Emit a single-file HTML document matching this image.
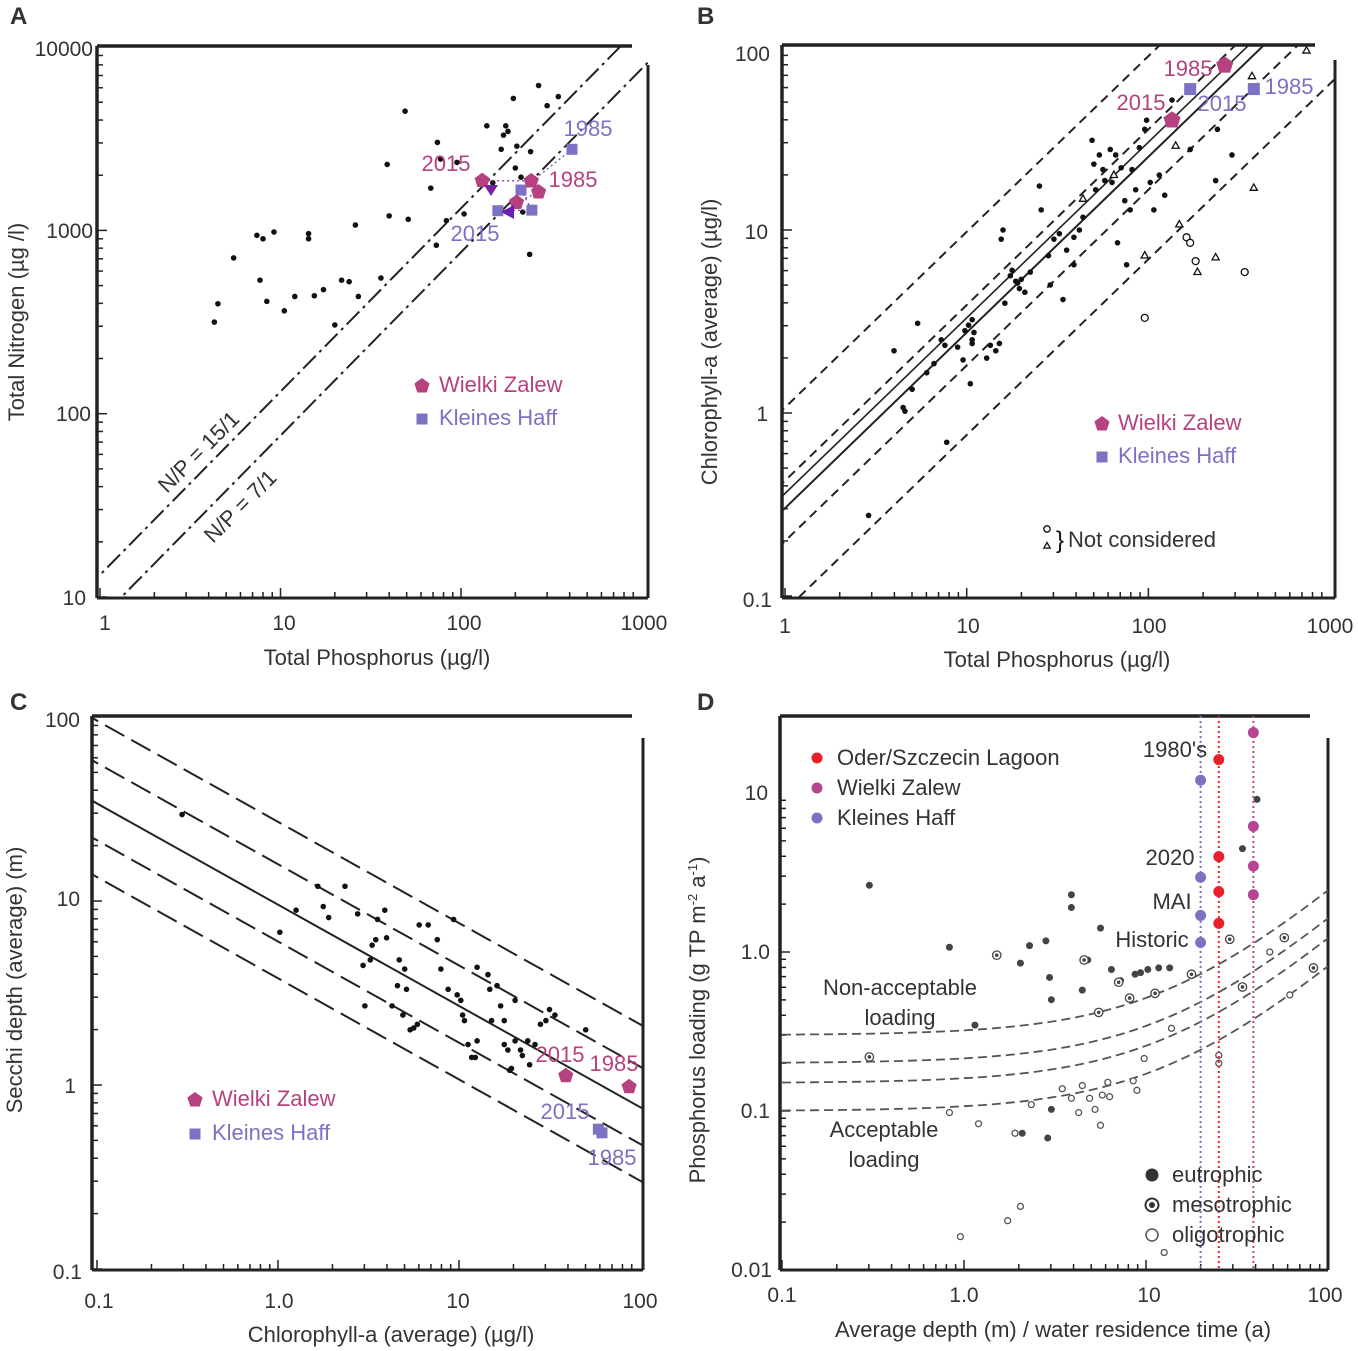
<!DOCTYPE html>
<html><head><meta charset="utf-8"><style>
body{margin:0;background:#fff}
svg{display:block;font-family:"Liberation Sans",sans-serif}
</style></head><body>
<svg id="fig" width="1358" height="1351" viewBox="0 0 1358 1351">
<rect width="1358" height="1351" fill="#fff"/>
<g font-size="22" fill="#333">
<text x="10" y="24" font-weight="bold" font-size="24">A</text>
<text x="697" y="24" font-weight="bold" font-size="24">B</text>
<text x="10" y="710" font-weight="bold" font-size="24">C</text>
<text x="697" y="710" font-weight="bold" font-size="24">D</text>
<g font-size="21">
<g text-anchor="middle"><text x="105" y="630">1</text><text x="284" y="630">10</text><text x="464" y="630">100</text><text x="644" y="630">1000</text></g>
<g text-anchor="end"><text x="93" y="56">10000</text><text x="93" y="238">1000</text><text x="91" y="421">100</text><text x="86" y="605">10</text></g>
<g text-anchor="middle"><text x="785" y="633">1</text><text x="968" y="633">10</text><text x="1149" y="633">100</text><text x="1330" y="633">1000</text></g>
<g text-anchor="end"><text x="770" y="61">100</text><text x="768" y="239">10</text><text x="768" y="421">1</text><text x="772" y="607">0.1</text></g>
<g text-anchor="middle"><text x="99" y="1308">0.1</text><text x="279" y="1308">1.0</text><text x="458" y="1308">10</text><text x="640" y="1308">100</text></g>
<g text-anchor="end"><text x="80" y="727">100</text><text x="80" y="906">10</text><text x="76" y="1093">1</text><text x="82" y="1279">0.1</text></g>
<g text-anchor="middle"><text x="782" y="1302">0.1</text><text x="964" y="1302">1.0</text><text x="1149" y="1302">10</text><text x="1325" y="1302">100</text></g>
<g text-anchor="end"><text x="768" y="800">10</text><text x="770" y="959">1.0</text><text x="770" y="1118">0.1</text><text x="772" y="1277">0.01</text></g>
</g>
<text x="377" y="665" text-anchor="middle">Total Phosphorus (µg/l)</text>
<text transform="translate(24,322) rotate(-90)" text-anchor="middle">Total Nitrogen (µg /l)</text>
<text transform="translate(167,494) rotate(-45)">N/P = 15/1</text>
<text transform="translate(213,544) rotate(-45)">N/P = 7/1</text>
<text x="1057" y="667" text-anchor="middle">Total Phosphorus (µg/l)</text>
<text transform="translate(717,342) rotate(-90)" text-anchor="middle">Chlorophyll-a (average) (µg/l)</text>
<text x="391" y="1342" text-anchor="middle">Chlorophyll-a (average) (µg/l)</text>
<text transform="translate(22,980) rotate(-90)" text-anchor="middle">Secchi depth (average) (m)</text>
<text x="1053" y="1337" text-anchor="middle">Average depth (m) / water residence time (a)</text>
<text transform="translate(705,1020) rotate(-90)" text-anchor="middle">Phosphorus loading (g TP m<tspan font-size="13" dy="-8">-2</tspan><tspan dy="8"> a</tspan><tspan font-size="13" dy="-8">-1</tspan><tspan dy="8">)</tspan></text>
</g>
</svg>
<script>
// ---------- DATA ----------
// Panel A (linear values, µg/l)
const aTP=[4.3,4.5,5.5,7.4,8.0,9.2,7.7,8.4,10.5,12,14.3,14.3,15.4,17.3,20,21.8,24,26,27,36,39,40,49,51,68,73,74,77,83,95,104,139,150,167,172,177,182,195,200,204,215,220,240,269,300,346,243];
const aTN=[316,398,708,940,900,980,535,410,364,436,960,900,440,475,305,535,525,1070,436,550,2290,1200,4470,1150,1700,830,3020,2450,1130,2350,1230,3720,1820,2770,3310,3720,3470,5250,2190,2880,1950,1260,740,6170,4790,5370,2690];
const aWZtp=[131,245,269,203], aWZtn=[1870,1860,1620,1420];
const aKHtp=[412,215,247,160], aKHtn=[2770,1660,1290,1280];
const aNPratio=[13.2,7.6];
// Panel B (log10 values)
const bTPlog=[0.46,0.65,0.66,0.73,0.60,0.70,0.82,0.88,0.86,0.89,0.95,0.99,1.01,1.03,1.03,1.04,1.03,1.11,1.13,1.16,1.18,1.19,1.20,1.21,1.24,1.25,1.27,1.28,1.29,1.30,1.32,1.35,1.40,1.41,1.45,1.46,1.48,1.51,1.53,1.55,1.59,1.59,1.62,1.64,1.69,1.70,1.71,1.73,1.75,1.76,1.79,1.80,1.82,1.83,1.85,1.87,1.88,1.90,1.91,1.93,1.95,1.98,1.99,2.01,2.03,2.06,2.09,2.13,2.23,2.38,2.37,2.46,1.02,0.98,0.78];
const bChlLog=[-0.56,0.03,0.01,0.49,0.34,0.13,0.27,0.37,0.40,-0.16,0.36,0.45,0.48,0.38,0.40,0.44,0.51,0.30,0.37,0.34,0.38,0.95,1.00,0.60,0.75,0.78,0.72,0.71,0.68,0.73,0.66,0.77,1.24,1.11,0.86,0.70,0.95,0.98,0.62,0.89,0.81,0.96,1.00,1.07,1.49,1.36,1.22,1.41,1.33,1.27,1.44,1.26,1.41,0.93,1.34,1.16,0.81,1.11,1.33,1.22,1.45,1.55,1.60,1.26,1.11,1.30,1.19,1.71,1.44,1.55,1.27,1.41,0.16,0.29,0.22];
const bCircTP=[1.98,2.21,2.23,2.26,2.53], bCircChl=[0.52,0.96,0.93,0.83,0.77];
const bTriTP=[1.64,1.81,1.98,2.15,2.17,2.27,2.37,2.58,2.57,2.87], bTriChl=[1.17,1.30,0.86,1.46,1.03,0.77,0.85,1.23,1.84,1.98];
const bWZtp=[2.42,2.13], bWZchl=[1.90,1.60];
const bKHtp=[2.23,2.58], bKHchl=[1.77,1.77];
const bLineIntercepts=[0.03,-0.37,-0.52,-0.70,-1.08], bLineSlope=0.96;
// Panel C (log10 values)
const cChlLog=[-0.53,0.01,0.10,0.22,0.25,0.28,0.37,0.44,0.47,0.48,0.51,0.52,0.54,0.55,0.59,0.60,0.63,0.66,0.67,0.69,0.70,0.71,0.73,0.75,0.77,0.78,0.83,0.88,0.90,0.94,0.97,0.99,1.01,1.02,1.03,1.05,1.07,1.09,1.10,1.10,1.16,1.17,1.18,1.21,1.23,1.25,1.27,1.28,1.29,1.31,1.34,1.35,1.38,1.39,1.42,1.45,1.48,1.50,1.53,1.70,1.25,1.31];
const cSecLog=[1.47,0.83,0.95,1.08,0.97,0.91,1.08,0.93,0.65,0.43,0.68,0.76,0.79,0.90,0.95,0.80,0.43,0.54,0.68,0.38,0.63,0.52,0.30,0.31,0.33,0.87,0.87,0.79,0.63,0.52,0.90,0.49,0.46,0.38,0.35,0.22,0.15,0.15,0.24,0.64,0.60,0.52,0.35,0.54,0.43,0.22,0.19,0.08,0.09,0.24,0.19,0.16,0.24,0.11,0.22,0.33,0.35,0.41,0.38,0.30,0.35,0.46];
const cWZchl=[1.59,1.94], cWZsec=[0.05,-0.01];
const cKHchl=[1.77,1.79], cKHsec=[-0.24,-0.26];
const cLineIntercepts=[1.43,1.20,0.98,0.78,0.58], cLineSlope=-0.55;
// Panel D (log10 values)
const dEuX=[-0.52,-0.08,0.06,0.31,0.36,0.45,0.47,0.48,0.59,0.59,0.65,0.68,0.75,0.81,0.86,0.94,0.97,1.01,1.07,1.13,0.48,0.46,0.32,1.53,1.61];
const dEuY=[0.42,0.03,-0.46,-0.07,0.04,0.07,-0.16,-0.30,0.36,0.28,-0.24,-0.05,0.15,-0.11,-0.18,-0.14,-0.13,-0.11,-0.10,-0.10,-0.99,-1.17,-1.14,0.65,0.96];
const dMesoX=[-0.52,0.18,0.66,0.74,0.85,0.91,1.05,1.25,1.46,1.53,1.76,1.92];
const dMesoY=[-0.66,-0.02,-0.05,-0.38,-0.19,-0.29,-0.26,-0.14,0.08,-0.22,0.09,-0.10];
const dOligoX=[-0.08,0.08,0.28,0.31,0.24,-0.02,0.37,0.54,0.59,0.63,0.65,0.69,0.72,0.75,0.76,0.79,0.80,0.93,0.95,0.99,1.10,1.14,1.40,1.40,1.68,1.79];
const dOligoY=[-1.01,-1.08,-1.14,-1.60,-1.69,-1.79,-0.96,-0.86,-0.92,-1.01,-0.84,-0.92,-0.99,-1.09,-0.90,-0.82,-0.91,-0.81,-0.87,-0.67,-1.89,-0.48,-0.65,-0.70,0.00,-0.27];
const dSeriesNames=["Kleines Haff","Oder/Szczecin Lagoon","Wielki Zalew"];
const dSeriesX=[1.30,1.40,1.59];
const dSeriesY=[[1.08,0.47,0.23,0.06],[1.21,0.60,0.38,0.18],[1.38,0.79,0.54,0.36]];
const dCurveBase=[0.3,0.2,0.15,0.1], dCurveK=14;

// ---------- DRAWING ----------
const NS='http://www.w3.org/2000/svg';
const svg=document.getElementById('fig');
function el(tag,attrs,parent){const e=document.createElementNS(NS,tag);for(const k in attrs)e.setAttribute(k,attrs[k]);(parent||svg).appendChild(e);return e;}
const L=Math.log10;
const A={x:v=>100+v*180.5, y:v=>597-(v-1)*183.3};
const B={x:v=>785+v*181.7, y:v=>413-v*183};
const C={x:v=>278+v*181, y:v=>1085-v*184};
const D={x:v=>964+v*182, y:v=>952-v*159};
const MAG='#b5427f', PUR='#7b72c4';

function frame(name,l,t,r,b,rTop,tRight,ax,xr,yr){
  const g=el('g',{});
  
  
  el('line',{x1:l,y1:t,x2:tRight,y2:t,stroke:'#222','stroke-width':3.5},g);
  el('line',{x1:l,y1:t,x2:l,y2:b,stroke:'#222','stroke-width':3.5},g);
  el('line',{x1:l,y1:b,x2:r,y2:b,stroke:'#222','stroke-width':3},g);
  el('line',{x1:r,y1:rTop,x2:r,y2:b,stroke:'#222','stroke-width':3},g);
  for(let d=xr[0];d<xr[1];d++)for(let k=1;k<10;k++){const px=ax.x(d+L(k));if(px<l||px>r)continue;const len=k==1?10:6;el('line',{x1:px,y1:b,x2:px,y2:b-len,stroke:'#222','stroke-width':1.5},g);}
  for(let d=yr[0];d<yr[1];d++)for(let k=1;k<10;k++){const py=ax.y(d+L(k));if(py<t||py>b)continue;const len=k==1?10:6;el('line',{x1:l,y1:py,x2:l+len,y2:py,stroke:'#222','stroke-width':1.5},g);}
}
frame('panel-a',97,46,648,598,65,632,A,[0,3],[1,4]);
frame('panel-b',782,45,1335,598,60,1315,B,[0,3],[-1,2]);
frame('panel-c',92,716,643,1270,738,632,C,[-1,2],[-1,2]);
frame('panel-d',780,716,1328,1270,738,1310,D,[-1,2],[-2,1]);

function clipRect(id,l,t,r,b){const cp=el('clipPath',{id:id});el('rect',{x:l,y:t,width:r-l,height:b-t},cp);}
clipRect('cA',97,46,648,598);clipRect('cB',782,45,1335,598);clipRect('cC',92,716,643,1270);clipRect('cD',780,716,1328,1270);

function dot(ax,x,y,r,name,fill,stroke){
  const c=el('circle',{cx:ax.x(x),cy:ax.y(y),r:r,fill:fill||'#111',stroke:stroke||'none','stroke-width':1.3});
  
  
  return c;
}
function pentagon(cx,cy,r,fill,name){
  let p=[];for(let i=0;i<5;i++){const a=-Math.PI/2+i*2*Math.PI/5;p.push((cx+r*Math.cos(a)).toFixed(1)+','+(cy+r*Math.sin(a)).toFixed(1));}
  const e=el('polygon',{points:p.join(' '),fill:fill});
  
  
  return e;
}
function square(cx,cy,s,fill,name){
  const e=el('rect',{x:cx-s/2,y:cy-s/2,width:s,height:s,fill:fill});
  
  
  return e;
}
function tri(cx,cy,s,name){
  const e=el('polygon',{points:`${cx},${cy-s} ${cx-s*0.9},${cy+s*0.6} ${cx+s*0.9},${cy+s*0.6}`,fill:'#fff',stroke:'#111','stroke-width':1.3});
  
  
}
function txt(x,y,s,fill,name,anchor,size){
  const t=el('text',{x:x,y:y,fill:fill,'font-size':size||22,'text-anchor':anchor||'start'});
  t.textContent=s;
  
  
  return t;
}
function refLine(ax,clip,slope,icpt,x0,x1,dash,name,w){
  const e=el('line',{x1:ax.x(x0),y1:ax.y(icpt+slope*x0),x2:ax.x(x1),y2:ax.y(icpt+slope*x1),stroke:'#222','stroke-width':w||2,'stroke-dasharray':dash,'clip-path':'url(#'+clip+')'});
  
  
}

// ----- Panel A -----
aNPratio.forEach((r,i)=>{refLine(A,'cA',1,L(r),-0.2,3.2,'18 5 3 5','np-line-'+i,2);});
aTP.forEach((v,i)=>dot(A,L(v),L(aTN[i]),2.8,'a-point'));
el('polyline',{points:aWZtp.map((v,i)=>A.x(L(v))+','+A.y(L(aWZtn[i]))).join(' '),fill:'none',stroke:'#8a2ca0','stroke-width':1.3,'stroke-dasharray':'2 3'});
el('polyline',{points:aKHtp.map((v,i)=>A.x(L(v))+','+A.y(L(aKHtn[i]))).join(' '),fill:'none',stroke:'#6a4cc0','stroke-width':1.3,'stroke-dasharray':'2 3'});
aKHtp.forEach((v,i)=>square(A.x(L(v)),A.y(L(aKHtn[i])),11,PUR,'a-kleines-haff-marker'));
aWZtp.forEach((v,i)=>pentagon(A.x(L(v)),A.y(L(aWZtn[i])),8,MAG,'a-wielki-zalew-marker'));
el('polygon',{points:'484,185 498,185 491,196',fill:'#7b1fa2'});
el('polygon',{points:'501,212 514,205 514,219',fill:'#6a1fb0'});
txt(446,171,'2015',MAG,'a-wz-2015-label','middle');
txt(573,187,'1985',MAG,'a-wz-1985-label','middle');
txt(588,136,'1985',PUR,'a-kh-1985-label','middle');
txt(475,241,'2015',PUR,'a-kh-2015-label','middle');
pentagon(422,386,8,MAG,'a-legend-wz-marker');txt(439,392,'Wielki Zalew',MAG,'a-legend-wz');
square(422,419,11,PUR,'a-legend-kh-marker');txt(439,425,'Kleines Haff',PUR,'a-legend-kh');

// ----- Panel B -----
bLineIntercepts.forEach((c,i)=>refLine(B,'cB',bLineSlope,c,-0.1,3.2,i==2?'':'9 6','b-regression-line-'+i,2));
refLine(B,'cB',bLineSlope,-0.44,-0.1,3.2,'','b-regression-line-solid2',1.6);
bTPlog.forEach((v,i)=>dot(B,v,bChlLog[i],2.8,'b-point'));
bCircTP.forEach((v,i)=>dot(B,v,bCircChl[i],3.5,'b-not-considered-circle','#fff','#111'));
bTriTP.forEach((v,i)=>tri(B.x(v),B.y(bTriChl[i]),4,'b-not-considered-triangle'));
bKHtp.forEach((v,i)=>square(B.x(v),B.y(bKHchl[i]),12,PUR,'b-kleines-haff-marker'));
bWZtp.forEach((v,i)=>pentagon(B.x(v),B.y(bWZchl[i]),9,MAG,'b-wielki-zalew-marker'));
txt(1188,76,'1985',MAG,'b-wz-1985-label','middle');
txt(1141,110,'2015',MAG,'b-wz-2015-label','middle');
txt(1222,111,'2015',PUR,'b-kh-2015-label','middle');
txt(1289,94,'1985',PUR,'b-kh-1985-label','middle');
pentagon(1102,424,8,MAG,'b-legend-wz-marker');txt(1118,430,'Wielki Zalew',MAG,'b-legend-wz');
square(1102,457,11,PUR,'b-legend-kh-marker');txt(1118,463,'Kleines Haff',PUR,'b-legend-kh');
el('circle',{cx:1047,cy:529,r:3.2,fill:'#fff',stroke:'#111','stroke-width':1.3});
tri(1047,546,3.5,'b-legend-triangle');
txt(1056,548,'}','#111','b-legend-brace','start',24);
txt(1068,547,'Not considered','#333','b-legend-not-considered');

// ----- Panel C -----
cLineIntercepts.forEach((c,i)=>refLine(C,'cC',cLineSlope,c,-1.1,2.1,i==2?'':'22 8','c-line-'+i,2));
cChlLog.forEach((v,i)=>dot(C,v,cSecLog[i],2.8,'c-point'));
cKHchl.forEach((v,i)=>square(C.x(v),C.y(cKHsec[i]),11,PUR,'c-kleines-haff-marker'));
cWZchl.forEach((v,i)=>pentagon(C.x(v),C.y(cWZsec[i]),8,MAG,'c-wielki-zalew-marker'));
txt(560,1062,'2015',MAG,'c-wz-2015-label','middle');
txt(614,1071,'1985',MAG,'c-wz-1985-label','middle');
txt(565,1119,'2015',PUR,'c-kh-2015-label','middle');
txt(612,1165,'1985',PUR,'c-kh-1985-label','middle');
pentagon(195,1100,8,MAG,'c-legend-wz-marker');txt(212,1106,'Wielki Zalew',MAG,'c-legend-wz');
square(195,1134,11,PUR,'c-legend-kh-marker');txt(212,1140,'Kleines Haff',PUR,'c-legend-kh');

// ----- Panel D -----
dCurveBase.forEach((a,i)=>{
  let pts=[];for(let s=0;s<=60;s++){const x=-1+s*3/60;const y=L(a*(1+Math.pow(10,x)/dCurveK));pts.push(D.x(x).toFixed(1)+','+D.y(y).toFixed(1));}
  const p=el('polyline',{points:pts.join(' '),fill:'none',stroke:'#555','stroke-width':1.8,'stroke-dasharray':'9 5','clip-path':'url(#cD)'});
  
  
});
dEuX.forEach((v,i)=>dot(D,v,dEuY[i],3.5,'d-eutrophic-point','#444'));
dMesoX.forEach((v,i)=>{dot(D,v,dMesoY[i],4.2,'d-mesotrophic-point','#fff','#444');dot(D,v,dMesoY[i],1.8,'d-mesotrophic-center','#444');});
dOligoX.forEach((v,i)=>dot(D,v,dOligoY[i],3,'d-oligotrophic-point','#fff','#555'));
const dCols=['#7b72c4','#e8202a','#b84593'];
dSeriesX.forEach((x,i)=>{
  const ln=el('line',{x1:D.x(x),y1:716,x2:D.x(x),y2:1270,stroke:dCols[i],'stroke-width':2,'stroke-dasharray':'2 3'});
  
  
  dSeriesY[i].forEach(y=>dot(D,x,y,5.5,'d-series-point',dCols[i]));
});
txt(1175,757,"1980's",'#333','d-label-1980s','middle');
txt(1170,865,'2020','#333','d-label-2020','middle');
txt(1172,909,'MAI','#333','d-label-mai','middle');
txt(1152,947,'Historic','#333','d-label-historic','middle');
txt(900,995,'Non-acceptable','#333','d-label-nonacceptable','middle');
txt(900,1025,'loading','#333','d-label-nonacceptable-2','middle');
txt(884,1137,'Acceptable','#333','d-label-acceptable','middle');
txt(884,1167,'loading','#333','d-label-acceptable-2','middle');
[['#e8202a','Oder/Szczecin Lagoon'],['#b84593','Wielki Zalew'],['#7b72c4','Kleines Haff']].forEach((s,i)=>{
  const c=el('circle',{cx:817,cy:758+i*30,r:5.5,fill:s[0]});
  
  
  txt(837,765+i*30,s[1],'#333','d-legend-entry');
});
el('circle',{cx:1152,cy:1175,r:6.5,fill:'#333'});
el('circle',{cx:1152,cy:1205,r:6.5,fill:'#fff',stroke:'#333','stroke-width':2});
el('circle',{cx:1152,cy:1205,r:3,fill:'#333'});
el('circle',{cx:1152,cy:1235,r:6,fill:'#fff',stroke:'#555','stroke-width':1.5});
txt(1172,1182,'eutrophic','#333','d-legend-eutrophic');
txt(1172,1212,'mesotrophic','#333','d-legend-mesotrophic');
txt(1172,1242,'oligotrophic','#333','d-legend-oligotrophic');
</script>
</body></html>
